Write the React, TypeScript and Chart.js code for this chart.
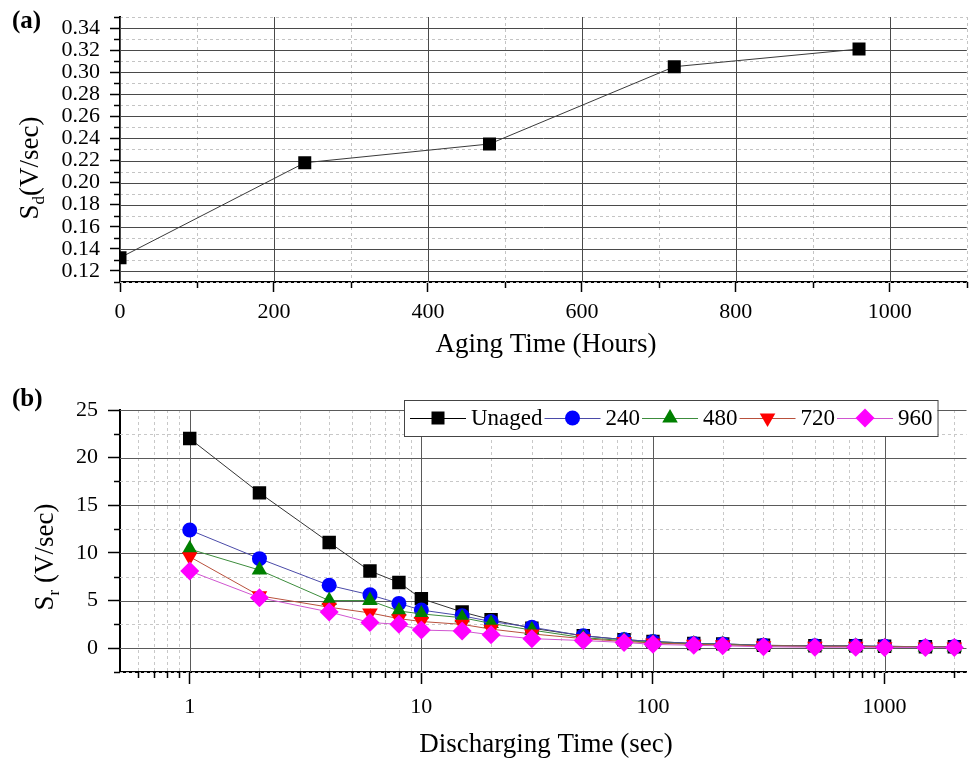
import React, { useEffect, useRef } from 'react';
import { Chart, registerables } from 'chart.js';

Chart.register(...registerables);

const FONT = "'Liberation Serif', 'Times New Roman', Times, serif";

// ---- Panel (a) data ----
const agingHours = [0, 240, 480, 720, 960];
const sdValues = [0.132, 0.218, 0.235, 0.305, 0.321];

const topXMajor = [0, 200, 400, 600, 800, 1000];
const topXMinor = [100, 300, 500, 700, 900, 1100];
const topYMajor = [0.12, 0.14, 0.16, 0.18, 0.2, 0.22, 0.24, 0.26, 0.28, 0.3, 0.32, 0.34];
const topYMinor = [0.11, 0.13, 0.15, 0.17, 0.19, 0.21, 0.23, 0.25, 0.27, 0.29, 0.31, 0.33, 0.35];

// ---- Panel (b) data ----
const dischargeTimes = [1, 2, 4, 6, 8, 10, 15, 20, 30, 50, 75, 100, 150, 200, 300, 500, 750, 1000, 1500, 2000];
const srUnaged = [22.0, 16.3, 11.1, 8.1, 6.9, 5.2, 3.8, 3.0, 2.1, 1.3, 0.9, 0.7, 0.5, 0.45, 0.3, 0.25, 0.25, 0.2, 0.15, 0.15];
const sr240 = [12.4, 9.4, 6.6, 5.6, 4.7, 4.0, 3.4, 2.8, 2.2, 1.3, 0.9, 0.7, 0.5, 0.45, 0.3, 0.25, 0.22, 0.2, 0.15, 0.15];
const sr480 = [10.4, 8.2, 5.0, 5.0, 3.9, 3.6, 3.2, 2.6, 1.9, 1.1, 0.8, 0.6, 0.45, 0.4, 0.25, 0.2, 0.2, 0.15, 0.12, 0.12];
const sr720 = [9.6, 5.5, 4.3, 3.7, 3.1, 2.8, 2.5, 2.0, 1.5, 1.0, 0.7, 0.55, 0.4, 0.35, 0.25, 0.2, 0.2, 0.15, 0.12, 0.12];
const sr960 = [8.1, 5.3, 3.8, 2.7, 2.5, 1.9, 1.8, 1.4, 1.0, 0.8, 0.6, 0.4, 0.3, 0.25, 0.15, 0.1, 0.1, 0.08, 0.08, 0.08];
const seriesLabels = ['Unaged', '240', '480', '720', '960'];
const seriesValues = [srUnaged, sr240, sr480, sr720, sr960];
const markerColors = ['#000000', '#0000ff', '#008000', '#ff0000', '#ff00ff'];
const lineColors = ['#333333', '#4a4aa8', '#3c8c3c', '#b8503c', '#d055d0'];
const markerShapes = ['square', 'circle', 'triUp', 'triDown', 'diamond'];

const botXMajor = [1, 10, 100, 1000];
const botXMinor = [0.6, 0.7, 0.8, 0.9, 2, 3, 4, 5, 6, 7, 8, 9, 20, 30, 40, 50, 60, 70, 80, 90, 200, 300, 400, 500, 600, 700, 800, 900, 2000];
const botYMajor = [0, 5, 10, 15, 20, 25];
const botYMinor = [-2.5, 2.5, 7.5, 12.5, 17.5, 22.5];

type GridCfg = {
  xMajor: number[];
  xMinor: number[];
  yMajor: number[];
  yMinor: number[];
  majorColor: string;
  minorColor: string;
};

function gridPlugin(cfg: GridCfg) {
  return {
    id: 'customGrid',
    beforeDatasetsDraw(chart: any) {
      const { ctx, chartArea: a, scales } = chart;
      const x = scales.x;
      const y = scales.y;
      ctx.save();
      ctx.lineWidth = 1;
      ctx.setLineDash([3, 3]);
      ctx.strokeStyle = cfg.minorColor;
      for (const v of cfg.xMinor) {
        const px = Math.round(x.getPixelForValue(v)) + 0.5;
        ctx.beginPath();
        ctx.moveTo(px, a.top);
        ctx.lineTo(px, a.bottom);
        ctx.stroke();
      }
      for (const v of cfg.yMinor) {
        const py = Math.round(y.getPixelForValue(v)) + 0.5;
        ctx.beginPath();
        ctx.moveTo(a.left, py);
        ctx.lineTo(a.right, py);
        ctx.stroke();
      }
      ctx.setLineDash([]);
      ctx.strokeStyle = cfg.majorColor;
      for (const v of cfg.xMajor) {
        const px = Math.round(x.getPixelForValue(v)) + 0.5;
        ctx.beginPath();
        ctx.moveTo(px, a.top);
        ctx.lineTo(px, a.bottom);
        ctx.stroke();
      }
      for (const v of cfg.yMajor) {
        const py = Math.round(y.getPixelForValue(v)) + 0.5;
        ctx.beginPath();
        ctx.moveTo(a.left, py);
        ctx.lineTo(a.right, py);
        ctx.stroke();
      }
      ctx.restore();
    },
    afterDraw(chart: any) {
      const { ctx, chartArea: a, scales } = chart;
      const x = scales.x;
      const y = scales.y;
      ctx.save();
      ctx.strokeStyle = '#000';
      ctx.lineWidth = 1.5;
      for (const v of cfg.xMinor) {
        const px = Math.round(x.getPixelForValue(v)) + 0.5;
        ctx.beginPath();
        ctx.moveTo(px, a.bottom);
        ctx.lineTo(px, a.bottom + 6);
        ctx.stroke();
      }
      for (const v of cfg.yMinor) {
        const py = Math.round(y.getPixelForValue(v)) + 0.5;
        ctx.beginPath();
        ctx.moveTo(a.left - 6, py);
        ctx.lineTo(a.left, py);
        ctx.stroke();
      }
      ctx.restore();
    },
  };
}

function drawRotatedLabel(ctx: CanvasRenderingContext2D, cx: number, cy: number, main: string, sub: string, rest: string, size: number) {
  ctx.save();
  ctx.translate(cx, cy);
  ctx.rotate(-Math.PI / 2);
  const f1 = `${size}px ${FONT}`;
  const f2 = `${Math.round(size * 0.62)}px ${FONT}`;
  ctx.font = f1;
  const w1 = ctx.measureText(main).width;
  const w3 = ctx.measureText(rest).width;
  ctx.font = f2;
  const w2 = ctx.measureText(sub).width;
  let xx = -(w1 + w2 + w3) / 2;
  ctx.fillStyle = '#000';
  ctx.textBaseline = 'alphabetic';
  ctx.textAlign = 'left';
  ctx.font = f1;
  ctx.fillText(main, xx, 0);
  xx += w1;
  ctx.font = f2;
  ctx.fillText(sub, xx, size * 0.22);
  xx += w2;
  ctx.font = f1;
  ctx.fillText(rest, xx, 0);
  ctx.restore();
}

function drawMarker(ctx: CanvasRenderingContext2D, shape: string, cx: number, cy: number, color: string) {
  ctx.save();
  ctx.fillStyle = color;
  ctx.beginPath();
  if (shape === 'square') {
    ctx.rect(cx - 6.5, cy - 6.5, 13, 13);
  } else if (shape === 'circle') {
    ctx.arc(cx, cy, 7.5, 0, Math.PI * 2);
  } else if (shape === 'triUp') {
    const r = 9;
    ctx.moveTo(cx, cy - r);
    ctx.lineTo(cx + r * 0.866, cy + r / 2);
    ctx.lineTo(cx - r * 0.866, cy + r / 2);
    ctx.closePath();
  } else if (shape === 'triDown') {
    const r = 9;
    ctx.moveTo(cx, cy + r);
    ctx.lineTo(cx + r * 0.866, cy - r / 2);
    ctx.lineTo(cx - r * 0.866, cy - r / 2);
    ctx.closePath();
  } else {
    const r = 9.5;
    ctx.moveTo(cx, cy - r);
    ctx.lineTo(cx + r, cy);
    ctx.lineTo(cx, cy + r);
    ctx.lineTo(cx - r, cy);
    ctx.closePath();
  }
  ctx.fill();
  ctx.restore();
}

const topTextPlugin = {
  id: 'topText',
  afterDraw(chart: any) {
    const ctx: CanvasRenderingContext2D = chart.ctx;
    ctx.save();
    ctx.fillStyle = '#000';
    ctx.font = `bold 25px ${FONT}`;
    ctx.textAlign = 'left';
    ctx.textBaseline = 'alphabetic';
    ctx.fillText('(a)', 12, 28);
    ctx.font = `27px ${FONT}`;
    ctx.textAlign = 'center';
    ctx.textBaseline = 'middle';
    ctx.fillText('Aging Time (Hours)', 546, 345);
    ctx.restore();
    drawRotatedLabel(ctx, 38, 168, 'S', 'd', '(V/sec)', 27);
  },
};

const botTextPlugin = {
  id: 'botText',
  afterDraw(chart: any) {
    const ctx: CanvasRenderingContext2D = chart.ctx;
    ctx.save();
    ctx.fillStyle = '#000';
    ctx.font = `bold 25px ${FONT}`;
    ctx.textAlign = 'left';
    ctx.textBaseline = 'alphabetic';
    ctx.fillText('(b)', 12, 26);
    ctx.font = `27px ${FONT}`;
    ctx.textAlign = 'center';
    ctx.textBaseline = 'middle';
    ctx.fillText('Discharging Time (sec)', 546, 365);
    ctx.restore();
    drawRotatedLabel(ctx, 53, 177, 'S', 'r', ' (V/sec)', 27);

    // legend
    ctx.save();
    ctx.font = `23px ${FONT}`;
    const top = 20;
    const bottom = 56;
    const cy = 38;
    let x = 410;
    const items: { x: number; textX: number }[] = [];
    for (let i = 0; i < seriesLabels.length; i++) {
      items.push({ x, textX: x + 61 });
      x = x + 61 + ctx.measureText(seriesLabels[i]).width + 2;
    }
    const boxLeft = 404;
    const boxRight = x + 3;
    ctx.fillStyle = '#fff';
    ctx.fillRect(boxLeft, top, boxRight - boxLeft, bottom - top);
    ctx.strokeStyle = '#444';
    ctx.lineWidth = 1;
    ctx.strokeRect(boxLeft + 0.5, top + 0.5, boxRight - boxLeft, bottom - top);
    for (let i = 0; i < seriesLabels.length; i++) {
      const it = items[i];
      ctx.strokeStyle = i === 0 ? '#000' : lineColors[i];
      ctx.lineWidth = 1;
      ctx.beginPath();
      ctx.moveTo(it.x, cy + 0.5);
      ctx.lineTo(it.x + 56, cy + 0.5);
      ctx.stroke();
      drawMarker(ctx, markerShapes[i], it.x + 28, cy, markerColors[i]);
      ctx.fillStyle = '#000';
      ctx.textAlign = 'left';
      ctx.textBaseline = 'middle';
      ctx.fillText(seriesLabels[i], it.textX, cy + 1);
    }
    ctx.restore();
  },
};

const tickFont = { family: FONT, size: 22 };

function App() {
  const topRef = useRef<HTMLCanvasElement>(null);
  const botRef = useRef<HTMLCanvasElement>(null);

  useEffect(() => {
    const topChart = new Chart(topRef.current as HTMLCanvasElement, {
      type: 'line',
      data: {
        datasets: [
          {
            data: agingHours.map((h, i) => ({ x: h, y: sdValues[i] })),
            borderColor: '#3a3a3a',
            borderWidth: 1,
            pointStyle: 'rect',
            pointRadius: 9.2,
            pointBackgroundColor: '#000',
            pointBorderColor: '#000',
            pointBorderWidth: 0,
            tension: 0,
            clip: 0,
          } as any,
        ],
      },
      options: {
        responsive: false,
        animation: false,
        devicePixelRatio: 1,
        events: [],
        layout: { padding: { left: 0, right: 4, top: 17, bottom: 0 } },
        plugins: { legend: { display: false }, tooltip: { enabled: false } },
        scales: {
          x: {
            type: 'linear',
            min: 0,
            max: 1100,
            afterBuildTicks: (s: any) => {
              s.ticks = topXMajor.map((v) => ({ value: v }));
            },
            afterFit: (s: any) => {
              s.height = 90;
              s.paddingLeft = 0;
              s.paddingRight = 0;
            },
            ticks: { autoSkip: false, maxRotation: 0, padding: 7, font: tickFont, color: '#000', callback: (v: any) => String(v) },
            grid: { drawOnChartArea: false, tickLength: 10, tickWidth: 1.5, tickColor: '#000' },
            border: { color: '#000', width: 2 },
          },
          y: {
            type: 'linear',
            min: 0.11,
            max: 0.35,
            afterBuildTicks: (s: any) => {
              s.ticks = topYMajor.map((v) => ({ value: v }));
            },
            afterFit: (s: any) => {
              s.width = 120;
              s.paddingTop = 0;
              s.paddingBottom = 0;
            },
            ticks: { autoSkip: false, padding: 10, font: tickFont, color: '#000', callback: (v: any) => Number(v).toFixed(2) },
            grid: { drawOnChartArea: false, tickLength: 10, tickWidth: 1.5, tickColor: '#000' },
            border: { color: '#000', width: 2 },
          },
        },
      } as any,
      plugins: [
        gridPlugin({ xMajor: topXMajor, xMinor: topXMinor, yMajor: topYMajor, yMinor: topYMinor, majorColor: '#4a4a4a', minorColor: '#c4c4c4' }),
        topTextPlugin,
      ],
    });

    const pointStyles = ['rect', 'circle', 'triangle', 'triangle', 'rectRot'];
    const pointRadii = [9.5, 7.5, 9, 9, 9.5];
    const pointRotations = [0, 0, 0, 180, 0];

    const botChart = new Chart(botRef.current as HTMLCanvasElement, {
      type: 'line',
      data: {
        datasets: seriesLabels.map((label, i) => ({
          label,
          data: dischargeTimes.map((t, j) => ({ x: t, y: seriesValues[i][j] })),
          borderColor: lineColors[i],
          borderWidth: 1,
          pointStyle: pointStyles[i],
          pointRadius: pointRadii[i],
          pointRotation: pointRotations[i],
          pointBackgroundColor: markerColors[i],
          pointBorderColor: markerColors[i],
          pointBorderWidth: 0,
          tension: 0,
          order: 5 - i,
        })) as any,
      },
      options: {
        responsive: false,
        animation: false,
        devicePixelRatio: 1,
        events: [],
        layout: { padding: { left: 0, right: 4, top: 30, bottom: 0 } },
        plugins: { legend: { display: false }, tooltip: { enabled: false } },
        scales: {
          x: {
            type: 'logarithmic',
            min: 0.5,
            max: 2257,
            afterBuildTicks: (s: any) => {
              s.ticks = botXMajor.map((v) => ({ value: v, major: true }));
            },
            afterFit: (s: any) => {
              s.height = 93;
              s.paddingLeft = 0;
              s.paddingRight = 0;
            },
            ticks: { autoSkip: false, maxRotation: 0, padding: 10, font: tickFont, color: '#000', callback: (v: any) => String(v) },
            grid: { drawOnChartArea: false, tickLength: 12, tickWidth: 1.5, tickColor: '#000' },
            border: { color: '#000', width: 2 },
          },
          y: {
            type: 'linear',
            min: -2.5,
            max: 25,
            afterBuildTicks: (s: any) => {
              s.ticks = botYMajor.map((v) => ({ value: v }));
            },
            afterFit: (s: any) => {
              s.width = 120;
              s.paddingTop = 0;
              s.paddingBottom = 0;
            },
            ticks: { autoSkip: false, padding: 10, font: tickFont, color: '#000', callback: (v: any) => String(v) },
            grid: { drawOnChartArea: false, tickLength: 12, tickWidth: 1.5, tickColor: '#000' },
            border: { color: '#000', width: 2 },
          },
        },
      } as any,
      plugins: [
        gridPlugin({ xMajor: botXMajor, xMinor: botXMinor, yMajor: botYMajor, yMinor: botYMinor, majorColor: '#5a5a5a', minorColor: '#c8c8c8' }),
        botTextPlugin,
      ],
    });

    return () => {
      topChart.destroy();
      botChart.destroy();
    };
  }, []);

  return (
    <div style={{ position: 'fixed', left: 0, top: 0, width: 976, height: 765, background: '#fff', overflow: 'hidden' }}>
      <canvas ref={topRef} width={976} height={372} style={{ position: 'absolute', left: 0, top: 0, width: 976, height: 372 }} />
      <canvas ref={botRef} width={976} height={385} style={{ position: 'absolute', left: 0, top: 380, width: 976, height: 385 }} />
    </div>
  );
}

export default App;
